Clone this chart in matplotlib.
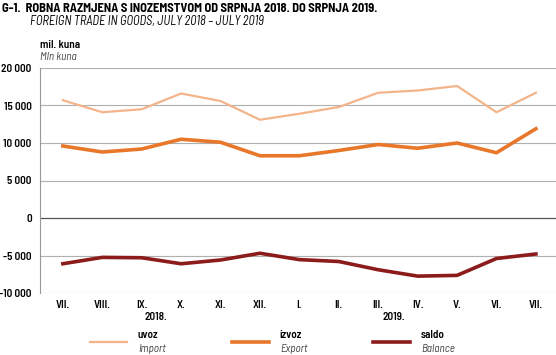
import numpy as np
import matplotlib
matplotlib.use('Agg')
import matplotlib.pyplot as plt

plt.rcParams['font.family'] = ['Barlow Semi Condensed', 'DejaVu Sans']

months = ['VII.', 'VIII.', 'IX.', 'X.', 'XI.', 'XII.', 'I.', 'II.', 'III.', 'IV.', 'V.', 'VI.', 'VII.']
uvoz = [15700, 14100, 14500, 16600, 15600, 13100, 13900, 14800, 16700, 17000, 17600, 14100, 16700]
izvoz = [9600, 8800, 9200, 10500, 10100, 8300, 8300, 9000, 9800, 9300, 10000, 8700, 11900]
saldo = [-6100, -5250, -5300, -6100, -5600, -4700, -5550, -5800, -6900, -7750, -7650, -5400, -4800]
yticks = [20000, 15000, 10000, 5000, 0, -5000, -10000]

c_uvoz = '#f3b48a'
c_izvoz = '#e8772a'
c_saldo = '#8c1c1c'

fig = plt.figure(figsize=(5.56, 3.55), dpi=100)
ax = fig.add_axes([40/556, 1-293/355, 516/556, 225/355])

x = np.arange(len(months))
ax.plot(x, uvoz, color=c_uvoz, lw=1.6)
ax.plot(x, izvoz, color=c_izvoz, lw=2.6)
ax.plot(x, saldo, color=c_saldo, lw=2.6)

ax.set_xlim(-0.58, 12.51)
ax.set_ylim(-10000, 20000)
ax.set_yticks(yticks)
ax.set_yticklabels([f'{v:,}'.replace(',', ' ') for v in yticks], fontsize=8, fontweight='semibold')
ax.set_xticks(x)
ax.set_xticklabels(months, fontsize=8, fontweight='semibold')
ax.tick_params(length=0, pad=5)
ax.tick_params(axis='y', pad=6)
for v in yticks:
    ax.axhline(v, color='#555555' if v == 0 else '#b0b0b0', lw=0.9 if v == 0 else 0.8, zorder=0)
for s in ['top', 'right']:
    ax.spines[s].set_visible(False)
ax.spines['bottom'].set_visible(False)
ax.spines['left'].set_color('#999999')
ax.spines['left'].set_linewidth(0.8)

fig.text(2/556, 1-9/355, 'G-1.  ROBNA RAZMJENA S INOZEMSTVOM OD SRPNJA 2018. DO SRPNJA 2019.',
         fontsize=9, fontweight='bold', va='center')
fig.text(30/556, 1-22/355, 'FOREIGN TRADE IN GOODS, JULY 2018 \u2013 JULY 2019',
         fontsize=9, style='italic', va='center')
fig.text(40/556, 1-45/355, 'mil. kuna', fontsize=8, fontweight='semibold', va='center')
fig.text(40/556, 1-57/355, 'Mln kuna', fontsize=8, style='italic', color='#444444', va='center')

fig.text(156/556, 1-317/355, '2018.', fontsize=8, fontweight='semibold', ha='center', va='center')
fig.text(394/556, 1-317/355, '2019.', fontsize=8, fontweight='semibold', ha='center', va='center')

legend_items = [(90, 'uvoz', 'Import', c_uvoz, 1.6),
                (232, 'izvoz', 'Export', c_izvoz, 2.6),
                (373, 'saldo', 'Balance', c_saldo, 2.6)]
for lx, hr, en, col, lw in legend_items:
    fig.add_artist(plt.Line2D([lx/556, (lx+37)/556], [1-342/355, 1-342/355], color=col, lw=lw))
    fig.text((lx+48)/556, 1-335/355, hr, fontsize=8, fontweight='semibold', va='center')
    fig.text((lx+48)/556, 1-349/355, en, fontsize=8, style='italic', color='#444444', va='center')

fig.savefig('out.png', dpi=100)
